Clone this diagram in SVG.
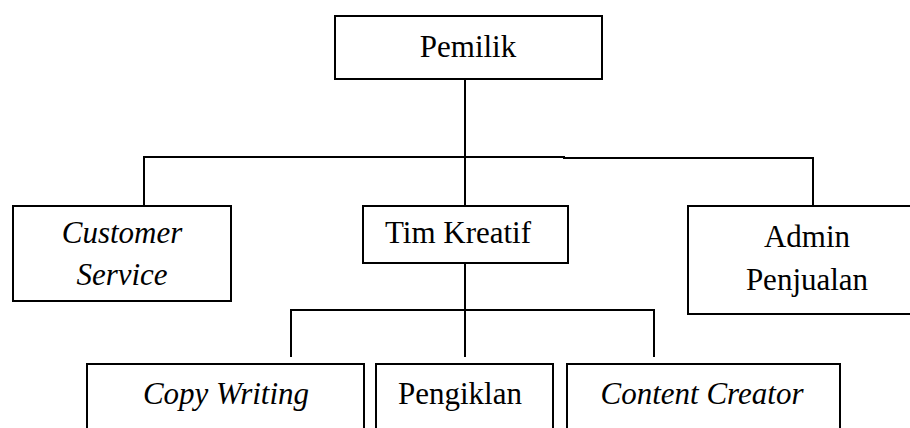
<svg xmlns="http://www.w3.org/2000/svg" width="910" height="428" viewBox="0 0 910 428">
<style>
.box{fill:#fff;stroke:#000;stroke-width:2}
.ln{fill:none;stroke:#000;stroke-width:2}
text{font-family:"Liberation Serif","Times New Roman",serif;font-size:31px;fill:#000;text-anchor:middle}
.it{font-style:italic}
</style>
<rect width="910" height="428" fill="#fff"/>
<g id="connectors">
<path class="ln" d="M465,79 V206"/>
<path class="ln" d="M144,206 V157 H564 V158 H813 V206"/>
<path class="ln" d="M465,263 V357"/>
<path class="ln" d="M291,357 V310 H654 V357"/>
</g>
<g id="pemilik">
<rect class="box" x="335" y="16" width="267" height="63"/>
<text x="468" y="57">Pemilik</text>
</g>
<g id="customer-service">
<rect class="box" x="13" y="206" width="218" height="95"/>
<text class="it" x="122" y="243">Customer</text>
<text class="it" x="122" y="285">Service</text>
</g>
<g id="tim-kreatif">
<rect class="box" x="363" y="206" width="205" height="57"/>
<text x="458" y="243">Tim Kreatif</text>
</g>
<g id="admin-penjualan">
<rect class="box" x="688" y="206" width="240" height="108"/>
<text x="807" y="247">Admin</text>
<text x="807" y="290">Penjualan</text>
</g>
<g id="copy-writing">
<rect class="box" x="87" y="364" width="277" height="80"/>
<text class="it" x="226" y="404">Copy Writing</text>
</g>
<g id="pengiklan">
<rect class="box" x="376" y="364" width="177" height="80"/>
<text x="460" y="404">Pengiklan</text>
</g>
<g id="content-creator">
<rect class="box" x="567" y="364" width="273" height="80"/>
<text class="it" x="702" y="404">Content Creator</text>
</g>
</svg>
